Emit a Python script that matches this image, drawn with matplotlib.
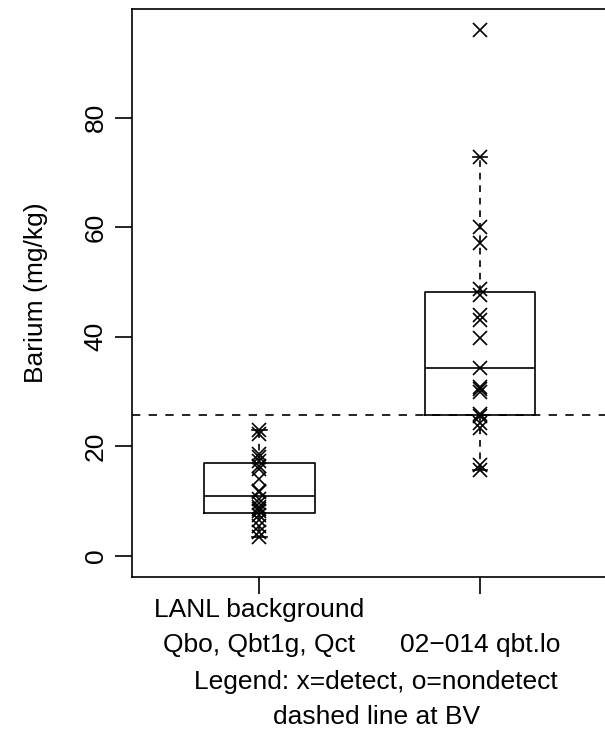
import matplotlib
matplotlib.use("Agg")
import matplotlib.pyplot as plt
import numpy as np

plt.rcParams['font.family'] = ['Liberation Sans', 'DejaVu Sans']

# data
group_labels = ["LANL background\nQbo, Qbt1g, Qct", "\n02\u2212014 qbt.lo"]
background = [3.5, 4.3, 5.4, 6.6, 7.4, 8.2, 8.6, 9.0, 9.6, 10.4,
              11.6, 11.9, 14.1, 15.8, 16.4, 17.4, 18.0, 18.6, 22.3, 23.0]
site = [15.7, 16.6, 23.3, 24.2, 25.5, 26.0, 30.0, 30.5, 30.9, 34.4,
        39.7, 43.1, 44.0, 47.6, 48.8, 57.1, 60.1, 72.8, 96.0]
bv = 25.7
y_ticks = [0, 20, 40, 60, 80]


def fivenum(x):
    x = np.sort(np.asarray(x, dtype=float))
    n = len(x)
    n4 = np.floor((n + 3) / 2) / 2
    d = np.array([1, n4, (n + 1) / 2, n + 1 - n4, n])
    return 0.5 * (x[np.floor(d).astype(int) - 1] + x[np.ceil(d).astype(int) - 1])


def box_stats(x, label):
    x = np.asarray(x)
    lo, q1, med, q3, hi = fivenum(x)
    iqr = q3 - q1
    inside = x[(x >= q1 - 1.5 * iqr) & (x <= q3 + 1.5 * iqr)]
    return dict(med=med, q1=q1, q3=q3, whislo=inside.min(), whishi=inside.max(),
                fliers=[], label=label)


groups = [background, site]
stats = [box_stats(g, l) for g, l in zip(groups, group_labels)]

fig = plt.figure(figsize=(6.05, 7.29), dpi=100)
ax = fig.add_axes([0.2177, 0.2085, 0.7866, 0.7791])

lw = 1.2
ax.bxp(stats, positions=[1, 2], widths=0.5, showfliers=False, capwidths=0.065,
       boxprops=dict(color='black', lw=lw),
       medianprops=dict(color='black', lw=lw),
       whiskerprops=dict(color='black', lw=lw, linestyle=(0, (4, 3.5))),
       capprops=dict(color='black', lw=lw))

for i, vals in enumerate(groups):
    ax.plot(np.full(len(vals), i + 1), vals, 'x', color='black', ms=10.5, mew=1.2)

ax.axhline(bv, color='black', lw=lw, linestyle=(0, (5, 5)))

ax.set_xlim(0.42, 2.58)
ax.set_ylim(-3.84, 99.84)
ax.set_yticks(y_ticks)
ax.tick_params(axis='both', length=12.2, width=lw, labelsize=19, color='black')
ax.tick_params(axis='y', labelrotation=90, pad=5)
ax.tick_params(axis='x', pad=3)
for t in ax.get_yticklabels():
    t.set_va('center')
for t in ax.get_xticklabels():
    t.set_linespacing(1.55)
for s in ax.spines.values():
    s.set_linewidth(lw)

ax.set_ylabel("Barium (mg/kg)", fontsize=19, labelpad=26)

fig.text(376 / 605, 1 - 682 / 729, "Legend: x=detect, o=nondetect",
         ha='center', va='center', fontsize=19)
fig.text(377 / 605, 1 - 717 / 729, "dashed line at BV",
         ha='center', va='center', fontsize=19)

fig.savefig("out.png", dpi=100)
